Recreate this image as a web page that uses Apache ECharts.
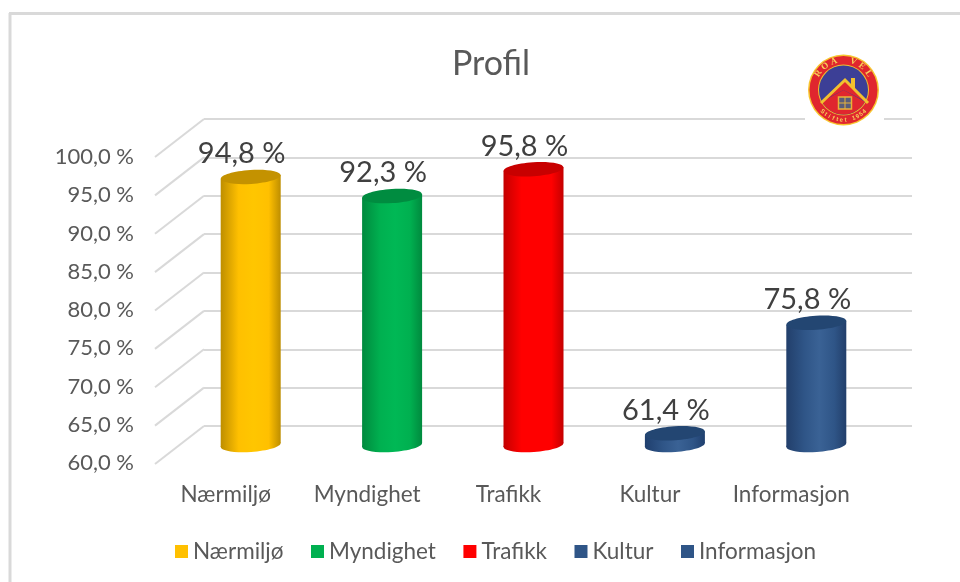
<!DOCTYPE html>
<html>
<head>
<meta charset="utf-8">
<title>Profil</title>
<script src="https://cdn.jsdelivr.net/npm/echarts@6/dist/echarts.min.js"></script>
<style>
html, body { margin: 0; padding: 0; background: #fff; }
#chart { width: 960px; height: 582px; }
</style>
</head>
<body>
<div id="chart"></div>
<script>
var categories = ['Nærmiljø', 'Myndighet', 'Trafikk', 'Kultur', 'Informasjon'];
var values = [94.8, 92.3, 95.8, 61.4, 75.8];
var ticks = [60, 65, 70, 75, 80, 85, 90, 95, 100];

var mainColors = ['#FFC000', '#00B050', '#FF0000', '#2F5587', '#2F5587'];
var centerColors = ['#FFC600', '#00B855', '#FF0000', '#3A6295', '#3A6295'];
var edgeColors = ['#BE8E00', '#008A3E', '#C40000', '#1F3F6E', '#223F6B'];
var topColors = ['#C49200', '#008C40', '#C80000', '#234672', '#234672'];

var textFont = 'Lato';
var axisMin = 60, axisMax = 100;

function pct(v) {
    return v.toFixed(1).replace('.', ',') + ' %';
}

// one cylinder, the chart is 2d so body and caps are drawn by hand
function cylinder(idx) {
    return function (params, api) {
        var top = api.coord([api.value(0), api.value(1)]);
        var base = api.coord([api.value(0), axisMin]);
        var cx = top[0], rx = 30, ry = 7, tilt = 2;
        var grad = {
            type: 'linear', x: 0, y: 0, x2: 1, y2: 0,
            colorStops: [
                {offset: 0, color: edgeColors[idx]},
                {offset: 0.3, color: mainColors[idx]},
                {offset: 0.55, color: centerColors[idx]},
                {offset: 0.8, color: mainColors[idx]},
                {offset: 1, color: edgeColors[idx]}
            ]
        };
        return {
            type: 'group',
            children: [{
                type: 'ellipse',
                shape: {cx: cx, cy: base[1] + 1, rx: rx, ry: ry},
                rotation: 0.065, originX: cx, originY: base[1] + 1,
                style: {fill: grad}
            }, {
                type: 'polygon',
                shape: {points: [
                    [cx - rx, top[1] + tilt], [cx + rx, top[1] - tilt],
                    [cx + rx, base[1] + 1 - tilt], [cx - rx, base[1] + 1 + tilt]
                ]},
                style: {fill: grad}
            }, {
                type: 'ellipse',
                shape: {cx: cx, cy: top[1], rx: rx, ry: ry},
                rotation: 0.065, originX: cx, originY: top[1],
                style: {fill: topColors[idx]}
            }, {
                type: 'text',
                style: {
                    x: cx - 9, y: top[1] - 23,
                    text: pct(api.value(1)),
                    fill: '#404040',
                    font: '29px ' + textFont,
                    align: 'center', verticalAlign: 'middle'
                }
            }]
        };
    };
}

var series = categories.map(function (name, i) {
    return {
        name: name,
        type: 'custom',
        xAxisIndex: 2,
        yAxisIndex: 2,
        z: 5,
        clip: false,
        itemStyle: {color: mainColors[i]},
        data: [[i, values[i]]],
        renderItem: cylinder(i)
    };
});

// side wall lines going from the back wall to the front
series.push({
    type: 'custom',
    xAxisIndex: 1,
    yAxisIndex: 1,
    z: 1,
    silent: true,
    clip: false,
    data: ticks.map(function (t) { return [0, t]; }),
    renderItem: function (params, api) {
        var p = api.coord([0, api.value(1)]);
        return {
            type: 'line',
            shape: {x1: 204, y1: p[1], x2: 155, y2: p[1] + 38},
            style: {stroke: '#d9d9d9', lineWidth: 2}
        };
    }
});

// logo
var logoX = 843.5, logoY = 90;
var logoTop = 'ROA VEL'.split('');
var logoBottom = 'Stiftet 1954'.split('');
var logo = [
    {type: 'rect', shape: {x: 805, y: 50, width: 79, height: 78}, style: {fill: '#fff'}},
    {type: 'circle', shape: {cx: logoX, cy: logoY, r: 35.5}, style: {fill: '#F7C52E'}},
    {type: 'circle', shape: {cx: logoX, cy: logoY, r: 34}, style: {fill: '#E0262E'}},
    {type: 'circle', shape: {cx: logoX, cy: logoY, r: 25.5}, style: {fill: '#F2C12E'}},
    {type: 'circle', shape: {cx: logoX, cy: logoY, r: 24.5}, style: {fill: '#3C3F96'}},
    {type: 'sector', shape: {cx: logoX, cy: logoY, r: 24.5, r0: 0, startAngle: 0.5, endAngle: Math.PI - 0.5, clockwise: true}, style: {fill: '#E0262E'}},
    {type: 'polygon', shape: {points: [[logoX, logoY], [865, 101], [845, 81], [822, 101]]}, style: {fill: '#E0262E'}},
    {type: 'polyline', shape: {points: [[821, 103], [845, 80], [868, 103]]}, style: {stroke: '#F2C12E', fill: 'none', lineWidth: 3}},
    {type: 'rect', shape: {x: 851, y: 78, width: 4, height: 10}, style: {fill: '#F2C12E'}},
    {type: 'rect', shape: {x: 838.5, y: 97, width: 13, height: 12}, style: {fill: '#5A5C7A', stroke: '#E8B23A', lineWidth: 1.5}},
    {type: 'line', shape: {x1: 845, y1: 97, x2: 845, y2: 109}, style: {stroke: '#E8B23A', lineWidth: 1}},
    {type: 'line', shape: {x1: 838.5, y1: 103, x2: 851.5, y2: 103}, style: {stroke: '#E8B23A', lineWidth: 1}}
];
logoTop.forEach(function (ch, i) {
    var a = (i - (logoTop.length - 1) / 2) * 0.33;
    logo.push({
        type: 'text',
        x: logoX + 30 * Math.sin(a), y: logoY - 30 * Math.cos(a),
        rotation: -a,
        style: {text: ch, fill: '#F7D25A', font: 'bold 9px "Liberation Serif"', align: 'center', verticalAlign: 'middle'}
    });
});
logoBottom.forEach(function (ch, i) {
    var a = (i - (logoBottom.length - 1) / 2) * 0.14;
    logo.push({
        type: 'text',
        x: logoX + 30 * Math.sin(a), y: logoY + 30 * Math.cos(a),
        rotation: a,
        style: {text: ch, fill: '#F7D25A', font: 'bold 6px "Liberation Sans"', align: 'center', verticalAlign: 'middle'}
    });
});
logo.forEach(function (el) { el.z = 20; });

// chart frame, only left and top show in the picture
var frame = [
    {type: 'line', z: 0, shape: {x1: 10, y1: 13, x2: 10, y2: 582}, style: {stroke: '#d9d9d9', lineWidth: 3}},
    {type: 'line', z: 0, shape: {x1: 9, y1: 13.5, x2: 960, y2: 13.5}, style: {stroke: '#d9d9d9', lineWidth: 3}}
];

var chart = echarts.init(document.getElementById('chart'));
var option = {
    backgroundColor: '#fff',
    animation: false,
    textStyle: {fontFamily: textFont},
    title: {
        text: 'Profil',
        left: 486,
        top: 59,
        textAlign: 'center',
        textVerticalAlign: 'middle',
        textStyle: {color: '#595959', fontSize: 34, fontWeight: 'normal', fontFamily: textFont}
    },
    legend: {
        left: 170,
        top: 535,
        icon: 'rect',
        itemWidth: 13,
        itemHeight: 13,
        itemGap: 27.5,
        data: categories,
        selectedMode: false,
        textStyle: {color: '#595959', fontSize: 22.5, fontFamily: textFont}
    },
    // grid 0 = front edge (labels), grid 1 = back wall, grid 2 = plane of the cylinders
    grid: [
        {left: 155, top: 157, width: 707, height: 306},
        {left: 204, top: 119, width: 708, height: 307},
        {left: 180, top: 137, width: 707, height: 307}
    ],
    xAxis: [{
        gridIndex: 0,
        type: 'category',
        data: categories,
        axisLine: {show: false},
        axisTick: {show: false},
        axisLabel: {color: '#595959', fontSize: 22.5, margin: 20, interval: 0, hideOverlap: false, fontFamily: textFont}
    }, {
        gridIndex: 1,
        type: 'category',
        data: categories,
        axisLine: {show: false},
        axisTick: {show: false},
        axisLabel: {show: false}
    }, {
        gridIndex: 2,
        type: 'category',
        data: categories,
        axisLine: {show: false},
        axisTick: {show: false},
        axisLabel: {show: false}
    }],
    yAxis: [{
        gridIndex: 0,
        type: 'value',
        min: axisMin,
        max: axisMax,
        interval: 5,
        axisLine: {show: false},
        axisTick: {show: false},
        splitLine: {show: false},
        axisLabel: {
            color: '#595959', fontSize: 22, margin: 21, fontFamily: textFont,
            formatter: function (v) { return pct(v); }
        }
    }, {
        gridIndex: 1,
        type: 'value',
        min: axisMin,
        max: axisMax,
        interval: 5,
        axisLine: {show: false},
        axisTick: {show: false},
        axisLabel: {show: false},
        splitLine: {lineStyle: {color: '#d9d9d9', width: 2}}
    }, {
        gridIndex: 2,
        type: 'value',
        min: axisMin,
        max: axisMax,
        interval: 5,
        axisLine: {show: false},
        axisTick: {show: false},
        axisLabel: {show: false},
        splitLine: {show: false}
    }],
    graphic: frame.concat(logo),
    series: series
};
chart.setOption(option);
</script>
</body>
</html>
